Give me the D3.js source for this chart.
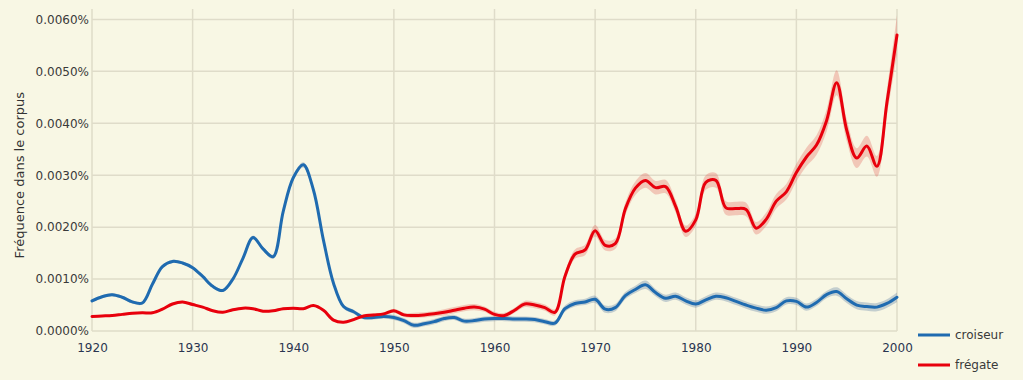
<!DOCTYPE html>
<html><head><meta charset="utf-8">
<script src="https://cdn.jsdelivr.net/npm/d3@7"></script>
<style>
html,body{margin:0;padding:0;background:#f8f7e4;}
svg{display:block;font-family:"DejaVu Sans",Verdana,sans-serif;}
</style></head><body>
<svg id="chart" width="1023" height="380"></svg>
<script>
// values in units of 0.001 % (frequency in corpus)
const years = d3.range(1920, 2001);
const croiseur = [0.58,0.66,0.70,0.65,0.56,0.54,0.90,1.24,1.34,1.31,
  1.22,1.05,0.86,0.78,1.00,1.40,1.80,1.58,1.43,2.30,
  2.95,3.20,2.72,1.75,0.92,0.47,0.37,0.26,0.26,0.28,
  0.26,0.20,0.11,0.14,0.18,0.24,0.26,0.19,0.20,0.23,
  0.24,0.24,0.23,0.23,0.22,0.18,0.15,0.43,0.53,0.56,
  0.61,0.42,0.45,0.68,0.80,0.89,0.74,0.63,0.67,0.58,
  0.52,0.60,0.67,0.64,0.57,0.50,0.44,0.40,0.45,0.58,
  0.57,0.46,0.55,0.70,0.76,0.62,0.50,0.47,0.46,0.53,0.65];
const fregate = [0.28,0.29,0.30,0.32,0.34,0.35,0.35,0.42,0.52,0.56,
  0.51,0.46,0.39,0.36,0.41,0.44,0.43,0.38,0.39,0.43,
  0.44,0.43,0.49,0.40,0.21,0.17,0.22,0.29,0.31,0.33,
  0.39,0.31,0.30,0.31,0.33,0.36,0.40,0.44,0.46,0.42,
  0.32,0.30,0.40,0.52,0.50,0.45,0.36,1.05,1.48,1.56,
  1.93,1.65,1.68,2.35,2.75,2.90,2.76,2.78,2.40,1.92,
  2.14,2.86,2.90,2.37,2.36,2.34,1.98,2.15,2.50,2.68,
  3.05,3.35,3.58,4.05,4.78,3.87,3.33,3.56,3.17,4.40,5.70];
// half-width of confidence band (same units)
const croiseurErr = [0.03,0.03,0.03,0.03,0.03,0.03,0.03,0.03,0.03,0.03,
  0.03,0.03,0.03,0.03,0.03,0.03,0.04,0.04,0.04,0.04,
  0.05,0.05,0.05,0.05,0.04,0.04,0.04,0.04,0.04,0.04,
  0.05,0.05,0.05,0.05,0.05,0.05,0.05,0.05,0.05,0.05,
  0.05,0.05,0.05,0.05,0.05,0.05,0.05,0.06,0.06,0.06,
  0.07,0.07,0.07,0.07,0.07,0.08,0.07,0.07,0.07,0.07,
  0.07,0.07,0.07,0.07,0.07,0.07,0.07,0.07,0.07,0.07,
  0.07,0.07,0.07,0.07,0.08,0.08,0.08,0.08,0.08,0.08,0.09];
const fregateErr = [0.02,0.02,0.02,0.02,0.02,0.02,0.02,0.02,0.02,0.02,
  0.02,0.02,0.02,0.02,0.02,0.02,0.02,0.02,0.02,0.02,
  0.02,0.02,0.02,0.02,0.02,0.02,0.03,0.03,0.03,0.03,
  0.04,0.04,0.05,0.05,0.05,0.06,0.06,0.06,0.06,0.05,
  0.05,0.05,0.05,0.06,0.06,0.06,0.06,0.08,0.09,0.10,
  0.11,0.10,0.10,0.12,0.13,0.14,0.13,0.13,0.12,0.11,
  0.12,0.14,0.14,0.13,0.13,0.13,0.12,0.13,0.14,0.15,
  0.17,0.18,0.19,0.21,0.24,0.21,0.19,0.20,0.20,0.25,0.38];
const seriesNames = ["croiseur", "frégate"];
const seriesColors = ["#1f6bb0", "#e8000c"];
const bandColors = ["rgba(95,125,165,0.34)", "rgba(225,90,80,0.30)"];
const xTicks = [1920,1930,1940,1950,1960,1970,1980,1990,2000];
const yTicks = [0,1,2,3,4,5,6];
const yTickLabels = ["0.0000%","0.0010%","0.0020%","0.0030%","0.0040%","0.0050%","0.0060%"];
const yTitle = "Fréquence dans le corpus";

const svg = d3.select("#chart");
const x = d3.scaleLinear().domain([1920, 2000]).range([92, 897]);
const y = d3.scaleLinear().domain([0, 6.2]).range([331, 9]);

// grid
const grid = svg.append("g");
grid.selectAll("line.h").data(yTicks).join("line")
  .attr("x1", x(1920)).attr("x2", x(2000))
  .attr("y1", d => y(d)).attr("y2", d => y(d))
  .attr("stroke", "#dfdcc9").attr("stroke-width", 1.5);
grid.selectAll("line.v").data(xTicks).join("line")
  .attr("x1", d => x(d)).attr("x2", d => x(d))
  .attr("y1", y(6.2)).attr("y2", y(0))
  .attr("stroke", "#dfdcc9").attr("stroke-width", 1.5);

// axes (labels only)
const yAxis = d3.axisLeft(y).tickValues(yTicks).tickSize(0).tickPadding(3)
  .tickFormat((d, i) => yTickLabels[i]);
svg.append("g").attr("transform", `translate(${x(1920)},0)`).call(yAxis)
  .call(g => g.select(".domain").remove())
  .selectAll("text").attr("font-size", 12).attr("fill", "#3a3a3a")
  .attr("font-family", "DejaVu Sans, sans-serif");
const xAxis = d3.axisBottom(x).tickValues(xTicks).tickSize(0).tickPadding(12)
  .tickFormat(d3.format("d"));
svg.append("g").attr("transform", `translate(0,${y(0)})`).call(xAxis)
  .call(g => g.select(".domain").remove())
  .selectAll("text").attr("font-size", 12).attr("fill", "#2a3550")
  .attr("font-family", "DejaVu Sans, sans-serif");

svg.append("text")
  .attr("transform", `translate(24,${(y(0)+y(6))/2}) rotate(-90)`)
  .attr("text-anchor", "middle")
  .attr("font-size", 13).attr("fill", "#333")
  .text(yTitle);

// series
const data = [croiseur, fregate];
const errs = [croiseurErr, fregateErr];
const area = d3.area().curve(d3.curveCatmullRom)
  .x(d => x(d.year)).y0(d => y(d.v - d.e)).y1(d => y(d.v + d.e));
const line = d3.line().curve(d3.curveCatmullRom)
  .x(d => x(d.year)).y(d => y(d.v));
[0, 1].forEach(i => {
  const pts = years.map((yr, j) => ({year: yr, v: data[i][j], e: errs[i][j]}));
  svg.append("path").datum(pts).attr("d", area).attr("fill", bandColors[i]);
});
[0, 1].forEach(i => {
  const pts = years.map((yr, j) => ({year: yr, v: data[i][j], e: errs[i][j]}));
  svg.append("path").datum(pts).attr("d", line).attr("fill", "none")
    .attr("stroke", seriesColors[i]).attr("stroke-width", 3)
    .attr("stroke-linejoin", "round").attr("stroke-linecap", "round");
});

// legend
const leg = svg.append("g");
seriesNames.forEach((name, i) => {
  const ly = 335 + i * 30;
  leg.append("line").attr("x1", 918).attr("x2", 950).attr("y1", ly).attr("y2", ly)
    .attr("stroke", seriesColors[i]).attr("stroke-width", 3);
  leg.append("text").attr("x", 955).attr("y", ly).attr("dy", "0.35em")
    .attr("font-size", 12).attr("fill", "#3a3a3a").text(name);
});
</script>
</body></html>
